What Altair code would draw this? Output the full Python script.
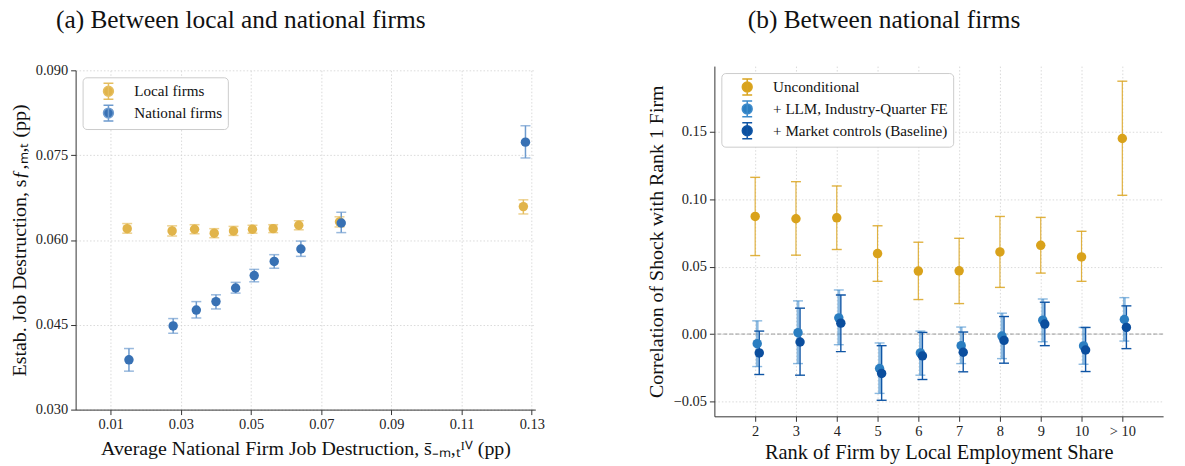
import altair as alt
import pandas as pd

FONT = "Liberation Serif"

# ---------------- Panel (a) data ----------------
local_x = [0.0147, 0.0275, 0.0339, 0.0395, 0.0450, 0.0504, 0.0563, 0.0636, 0.0752, 0.1276]
local_y = [0.0620, 0.0616, 0.0619, 0.0612, 0.0616, 0.0619, 0.0620, 0.0626, 0.0632, 0.0659]
local_lo = [0.0612, 0.0607, 0.0611, 0.0604, 0.0608, 0.0612, 0.0613, 0.0618, 0.0623, 0.0646]
local_hi = [0.0629, 0.0625, 0.0627, 0.0620, 0.0624, 0.0626, 0.0627, 0.0634, 0.0641, 0.0671]

nat_x = [0.0152, 0.0278, 0.0344, 0.0400, 0.0456, 0.0509, 0.0566, 0.0642, 0.0757, 0.1282]
nat_y = [0.0388, 0.0448, 0.0476, 0.0491, 0.0515, 0.0537, 0.0562, 0.0584, 0.0630, 0.0773]
nat_lo = [0.0368, 0.0435, 0.0462, 0.0478, 0.0506, 0.0526, 0.0550, 0.0571, 0.0613, 0.0745]
nat_hi = [0.0408, 0.0461, 0.0491, 0.0503, 0.0525, 0.0548, 0.0574, 0.0598, 0.0649, 0.0802]

left_series = ["Local firms", "National firms"]
left_point_colors = ["#E1B44A", "#3871B4"]
left_bar_colors = ["#E5BE60", "#6E9BCE"]

left_xticks = [0.01, 0.03, 0.05, 0.07, 0.09, 0.11, 0.13]
left_yticks = [0.030, 0.045, 0.060, 0.075, 0.090]

# ---------------- Panel (b) data ----------------
rank_labels = ["2", "3", "4", "5", "6", "7", "8", "9", "10", "> 10"]
rank_pos = [2, 3, 4, 5, 6, 7, 8, 9, 10, 11]

uncond = [0.0872, 0.0855, 0.0862, 0.0597, 0.0467, 0.0469, 0.0609, 0.0658, 0.0572, 0.1450]
uncond_lo = [0.0582, 0.0585, 0.0627, 0.0391, 0.0256, 0.0226, 0.0346, 0.0452, 0.0391, 0.1029]
uncond_hi = [0.1162, 0.1130, 0.1098, 0.0803, 0.0681, 0.0710, 0.0872, 0.0865, 0.0762, 0.1875]

llm = [-0.0071, 0.0010, 0.0120, -0.0256, -0.0140, -0.0086, -0.0015, 0.0103, -0.0088, 0.0108]
llm_lo = [-0.0241, -0.0219, -0.0079, -0.0440, -0.0305, -0.0219, -0.0182, -0.0057, -0.0224, -0.0052]
llm_hi = [0.0098, 0.0246, 0.0327, -0.0066, 0.0022, 0.0052, 0.0155, 0.0260, 0.0049, 0.0270]

base = [-0.0140, -0.0059, 0.0081, -0.0292, -0.0162, -0.0135, -0.0047, 0.0074, -0.0118, 0.0049]
base_lo = [-0.0300, -0.0305, -0.0130, -0.0491, -0.0337, -0.0280, -0.0216, -0.0086, -0.0278, -0.0108]
base_hi = [0.0022, 0.0192, 0.0290, -0.0086, 0.0012, 0.0015, 0.0130, 0.0236, 0.0049, 0.0209]

right_series = ["Unconditional", "+ LLM, Industry-Quarter FE", "+ Market controls (Baseline)"]
right_point_colors = ["#D9A21B", "#2B7EC1", "#0B4E9E"]
right_offsets = [0.0, 0.05, 0.10]
right_yticks = [-0.05, 0.0, 0.05, 0.10, 0.15]

# custom legend glyph: dot with an error bar
GLYPH = ("M-0.62,0 A0.62,0.62 0 1,0 0.62,0 A0.62,0.62 0 1,0 -0.62,0 Z "
         "M0,-1 L0,1 M-0.62,-1 L0.62,-1 M-0.62,1 L0.62,1")


def legend(labelsize=15.2):
    return alt.Legend(
        orient="none", legendX=7, legendY=7, title=None,
        fillColor="white", strokeColor="#cccccc", cornerRadius=4,
        padding=5, symbolType=GLYPH, symbolSize=256, symbolStrokeWidth=1.5,
        symbolOffset=12, labelOffset=17, rowPadding=0, labelLimit=0,
        labelFont=FONT, labelFontSize=labelsize, labelColor="#111111",
    )


# ---------------- Panel (a) ----------------
rows = []
for s, xs, ys, los, his in [
    (left_series[0], local_x, local_y, local_lo, local_hi),
    (left_series[1], nat_x, nat_y, nat_lo, nat_hi),
]:
    for x, y, lo, hi in zip(xs, ys, los, his):
        rows.append(dict(series=s, x=x, y=y, lo=lo, hi=hi))
dl = pd.DataFrame(rows)

xL_scale = alt.Scale(domain=[0.0, 0.131], nice=False, zero=False)
yL_scale = alt.Scale(domain=[0.03, 0.09], nice=False, zero=False)
xL_axis = alt.Axis(values=left_xticks, format=".2f",
                   title="Average National Firm Job Destruction, s\u0304\u208b\u2098,\u209c\u1d35\u2c7d (pp)",
                   titlePadding=8, labelPadding=3)
yL_axis = alt.Axis(values=left_yticks, format=".3f",
                   title="Estab. Job Destruction, s\u0192,\u2098,\u209c (pp)",
                   titlePadding=6, labelPadding=3)

left_layers = []
for s, bc in zip(left_series, left_bar_colors):
    d = dl[dl.series == s]
    left_layers.append(
        alt.Chart(d).mark_rule(color=bc, strokeWidth=1.5).encode(
            x=alt.X("x:Q", scale=xL_scale, axis=xL_axis),
            y=alt.Y("lo:Q", scale=yL_scale, axis=yL_axis),
            y2="hi:Q",
        )
    )
    for col in ["lo", "hi"]:
        left_layers.append(
            alt.Chart(d).mark_tick(color=bc, orient="horizontal", size=10, thickness=1.5).encode(
                x=alt.X("x:Q", scale=xL_scale, axis=xL_axis),
                y=alt.Y(f"{col}:Q", scale=yL_scale, axis=yL_axis),
            )
        )

left_points = alt.Chart(dl).mark_point(filled=True, size=90, opacity=1, strokeWidth=0).encode(
    x=alt.X("x:Q", scale=xL_scale, axis=xL_axis),
    y=alt.Y("y:Q", scale=yL_scale, axis=yL_axis),
    fill=alt.Fill("series:N", scale=alt.Scale(domain=left_series, range=left_point_colors), legend=legend()),
    stroke=alt.Stroke("series:N", scale=alt.Scale(domain=left_series, range=left_bar_colors), legend=legend()),
)

left = alt.layer(*left_layers, left_points).properties(
    width=462, height=341,
    title=alt.TitleParams("(a) Between local and national firms", font=FONT, fontSize=25.5,
                          fontWeight="normal", anchor="middle", dx=-65, offset=29.5, color="#111111"),
)

# ---------------- Panel (b) ----------------
rows = []
for s, off, vs, los, his in zip(right_series, right_offsets,
                                [uncond, llm, base], [uncond_lo, llm_lo, base_lo], [uncond_hi, llm_hi, base_hi]):
    for p, v, lo, hi in zip(rank_pos, vs, los, his):
        rows.append(dict(series=s, pos=p + off, y=v, lo=lo, hi=hi))
dr = pd.DataFrame(rows)

xR_scale = alt.Scale(domain=[1, 12], nice=False, zero=False)
yR_scale = alt.Scale(domain=[-0.061, 0.1987], nice=False, zero=False)
xR_axis = alt.Axis(values=rank_pos, title="Rank of Firm by Local Employment Share",
                   labelExpr="datum.value == 11 ? '> 10' : format(datum.value, 'd')",
                   titlePadding=5, labelPadding=3, titleFontSize=20.5)
yR_axis = alt.Axis(values=right_yticks, format=".2f", title="Correlation of Shock with Rank 1 Firm",
                   titlePadding=7, labelPadding=3)

bar_styles = {
    right_series[0]: dict(color="#DAA520", width=1.2, opacity=0.85),
    right_series[1]: dict(color="#3D8BCB", width=2.8, opacity=0.6),
    right_series[2]: dict(color="#0F55A5", width=1.4, opacity=1.0),
}

zero_line = alt.Chart(pd.DataFrame({"z": [0.0]})).mark_rule(
    color="#999999", strokeDash=[4, 2], strokeWidth=1).encode(
    y=alt.Y("z:Q", scale=yR_scale, axis=yR_axis))

right_layers = [zero_line]
for s in right_series:
    st = bar_styles[s]
    d = dr[dr.series == s]
    right_layers.append(
        alt.Chart(d).mark_rule(color=st["color"], strokeWidth=st["width"], opacity=st["opacity"]).encode(
            x=alt.X("pos:Q", scale=xR_scale, axis=xR_axis),
            y=alt.Y("lo:Q", scale=yR_scale, axis=yR_axis),
            y2="hi:Q",
        )
    )
    for col in ["lo", "hi"]:
        right_layers.append(
            alt.Chart(d).mark_tick(color=st["color"], orient="horizontal", size=10,
                                   thickness=1.4, opacity=st["opacity"]).encode(
                x=alt.X("pos:Q", scale=xR_scale, axis=xR_axis),
                y=alt.Y(f"{col}:Q", scale=yR_scale, axis=yR_axis),
            )
        )

right_bar_colors = [bar_styles[s]["color"] for s in right_series]
right_points = alt.Chart(dr).mark_point(filled=True, size=90, opacity=1, strokeWidth=0).encode(
    x=alt.X("pos:Q", scale=xR_scale, axis=xR_axis),
    y=alt.Y("y:Q", scale=yR_scale, axis=yR_axis),
    fill=alt.Fill("series:N", scale=alt.Scale(domain=right_series, range=right_point_colors), legend=legend()),
    stroke=alt.Stroke("series:N", scale=alt.Scale(domain=right_series, range=right_bar_colors), legend=legend()),
)

right = alt.layer(*right_layers, right_points).properties(
    width=451, height=352,
    title=alt.TitleParams("(b) Between national firms", font=FONT, fontSize=25.5,
                          fontWeight="normal", anchor="middle", dx=-55, offset=32.5, color="#111111"),
)

chart = alt.hconcat(left, right, spacing=100, center=True).resolve_scale(
    fill="independent", stroke="independent"
).resolve_legend(fill="independent", stroke="independent").properties(
    padding={"left": 8, "top": 6, "right": 21, "bottom": 0}
).configure_view(stroke="transparent").configure_axis(
    labelFont=FONT, titleFont=FONT, labelFontSize=14.5, titleFontSize=20,
    titleFontWeight="normal", labelColor="#222222", titleColor="#111111",
    domainColor="#333333", tickColor="#333333", tickSize=5, domainWidth=1,
    gridColor="#d0d0d0", gridDash=[1.5, 2], gridWidth=0.8,
)

chart.save("out.html", embed_options={"renderer": "svg", "actions": False})
